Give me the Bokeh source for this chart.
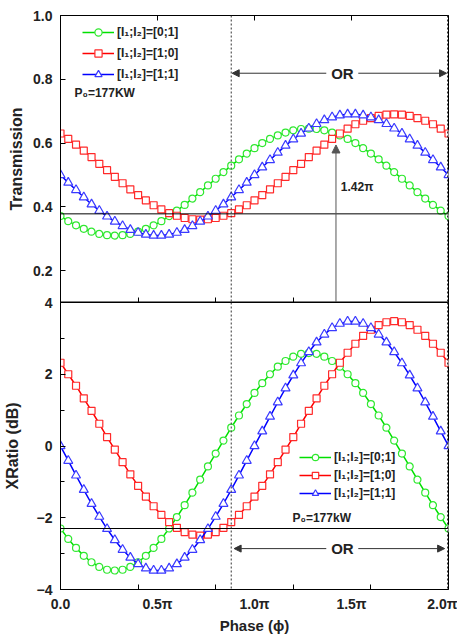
from bokeh.plotting import figure
from bokeh.models import (FixedTicker, Span, Arrow, NormalHead, Label, Legend, LegendItem,
                          CustomJSTickFormatter, PrintfTickFormatter, LinearAxis, Range1d)
from bokeh.layouts import column
from bokeh.embed import file_html
from bokeh.resources import INLINE

# ---------------- data (phase in units of pi) ----------------
phase = [0.00, 0.04, 0.08, 0.12, 0.16, 0.20, 0.24, 0.28, 0.32, 0.36, 0.40, 0.44, 0.48,
         0.52, 0.56, 0.60, 0.64, 0.68, 0.72, 0.76, 0.80, 0.84, 0.88, 0.92, 0.96, 1.00,
         1.04, 1.08, 1.12, 1.16, 1.20, 1.24, 1.28, 1.32, 1.36, 1.40, 1.44, 1.48, 1.52,
         1.56, 1.60, 1.64, 1.68, 1.72, 1.76, 1.80, 1.84, 1.88, 1.92, 1.96, 2.00]

trans_01 = [0.371, 0.355, 0.342, 0.331, 0.322, 0.315, 0.311, 0.310, 0.311, 0.315, 0.322, 0.331, 0.342,
            0.355, 0.371, 0.388, 0.406, 0.426, 0.446, 0.467, 0.488, 0.509, 0.529, 0.549, 0.567, 0.584,
            0.600, 0.613, 0.624, 0.633, 0.640, 0.644, 0.645, 0.644, 0.640, 0.633, 0.624, 0.613, 0.600,
            0.584, 0.567, 0.549, 0.529, 0.509, 0.488, 0.467, 0.446, 0.426, 0.406, 0.388, 0.371]
trans_10 = [0.630, 0.613, 0.595, 0.576, 0.556, 0.535, 0.515, 0.494, 0.474, 0.455, 0.437, 0.420, 0.405,
            0.392, 0.380, 0.372, 0.365, 0.361, 0.360, 0.361, 0.365, 0.372, 0.380, 0.392, 0.405, 0.420,
            0.437, 0.455, 0.474, 0.494, 0.515, 0.535, 0.556, 0.576, 0.595, 0.613, 0.630, 0.645, 0.659,
            0.670, 0.678, 0.685, 0.689, 0.690, 0.689, 0.685, 0.678, 0.670, 0.659, 0.645, 0.630]
trans_11 = [0.500, 0.476, 0.453, 0.430, 0.408, 0.388, 0.370, 0.354, 0.340, 0.328, 0.319, 0.313, 0.310,
            0.310, 0.313, 0.319, 0.328, 0.340, 0.354, 0.370, 0.388, 0.408, 0.430, 0.453, 0.476, 0.500,
            0.524, 0.547, 0.570, 0.592, 0.612, 0.630, 0.646, 0.660, 0.672, 0.681, 0.687, 0.690, 0.690,
            0.687, 0.681, 0.672, 0.660, 0.646, 0.630, 0.612, 0.592, 0.570, 0.547, 0.524, 0.500]

xr_01 = [-2.30, -2.59, -2.84, -3.06, -3.24, -3.37, -3.45, -3.47, -3.45, -3.37, -3.24, -3.06, -2.84,
         -2.59, -2.30, -1.98, -1.65, -1.30, -0.94, -0.57, -0.21, 0.15, 0.51, 0.85, 1.17, 1.48,
         1.75, 2.00, 2.21, 2.37, 2.49, 2.57, 2.59, 2.57, 2.49, 2.37, 2.21, 2.00, 1.75,
         1.48, 1.17, 0.85, 0.51, 0.15, -0.21, -0.57, -0.94, -1.30, -1.65, -1.98, -2.30]
xr_10 = [2.32, 2.00, 1.68, 1.33, 0.98, 0.62, 0.25, -0.10, -0.45, -0.79, -1.11, -1.41, -1.68,
         -1.92, -2.12, -2.28, -2.40, -2.47, -2.50, -2.47, -2.40, -2.28, -2.12, -1.92, -1.68, -1.41,
         -1.11, -0.79, -0.45, -0.10, 0.25, 0.62, 0.98, 1.33, 1.68, 2.00, 2.32, 2.60, 2.85,
         3.07, 3.24, 3.37, 3.45, 3.48, 3.45, 3.37, 3.24, 3.07, 2.85, 2.60, 2.32]
xr_11 = [0.00, -0.41, -0.82, -1.22, -1.61, -1.97, -2.31, -2.62, -2.89, -3.11, -3.29, -3.41, -3.47,
         -3.47, -3.41, -3.29, -3.11, -2.89, -2.62, -2.31, -1.97, -1.61, -1.22, -0.82, -0.41, 0.00,
         0.41, 0.82, 1.22, 1.61, 1.97, 2.31, 2.62, 2.89, 3.11, 3.29, 3.41, 3.47, 3.47,
         3.41, 3.29, 3.11, 2.89, 2.62, 2.31, 1.97, 1.61, 1.22, 0.82, 0.41, 0.00]

labels = ["[I\u2081;I\u2082]=[0;1]", "[I\u2081;I\u2082]=[1;0]", "[I\u2081;I\u2082]=[1;1]"]
x_label_ticks = [0.0, 0.5, 1.0, 1.5, 2.0]
x_minor_ticks = [0.4, 0.8, 1.2, 1.6]
x_top_ticks = [0.5, 1.0, 1.5]
t_ticks = [0.2, 0.4, 0.6, 0.8, 1.0]
xr_ticks = [-4, -2, 0, 2, 4]
xr_minor = [-3, -1, 1, 3]

t_level = 0.378
xr_level = -2.3
or_start = 0.88
or_end = 1.995
switch_phase = 1.42

FONT = "Liberation Sans"
TXT = "#222222"
colors = ["#00e000", "#ff0000", "#0000ff"]
mcolors = ["#30e830", "#ff2a2a", "#3a3aff"]
markers = ["circle", "square", "triangle"]
msizes = [7, 7, 9]


def style_axis(ax):
    ax.axis_line_color = "black"
    ax.axis_line_width = 1
    ax.major_label_text_font = FONT
    ax.major_label_text_font_style = "bold"
    ax.major_label_text_font_size = "14px"
    ax.major_label_text_color = TXT
    ax.axis_label_text_font = FONT
    ax.axis_label_text_font_style = "bold"
    ax.axis_label_text_font_size = "15px"
    ax.axis_label_text_color = TXT
    ax.major_tick_line_color = "black"
    ax.minor_tick_line_color = "black"
    ax.major_tick_out = 0
    ax.minor_tick_out = 0
    ax.major_tick_in = 5
    ax.minor_tick_in = 5


def make_fig(yr, top, bottom):
    p = figure(frame_width=388, frame_height=287, x_range=Range1d(0, 2), y_range=yr,
               output_backend="svg", toolbar_location=None,
               x_axis_location=None, y_axis_location=None,
               min_border_left=53, min_border_right=9, min_border_top=top, min_border_bottom=bottom)
    p.xgrid.grid_line_color = None
    p.ygrid.grid_line_color = None
    p.outline_line_color = "black"
    p.outline_line_width = 1
    return p


# ---------------- top panel ----------------
p1 = make_fig(Range1d(0.1, 1.0), 15, 7)

ya1 = LinearAxis(ticker=FixedTicker(ticks=t_ticks), formatter=PrintfTickFormatter(format="%.1f"),
                 axis_label="Transmission")
style_axis(ya1)
ya1.major_label_standoff = 8
ya1.axis_label_standoff = 5
ya1.axis_label_text_font_size = "16px"
p1.add_layout(ya1, "left")

xb1 = LinearAxis(ticker=FixedTicker(ticks=[], minor_ticks=x_minor_ticks))
style_axis(xb1)
xb1.axis_line_width = 2
xb1.major_label_standoff = 0
p1.add_layout(xb1, "below")

xt1 = LinearAxis(ticker=FixedTicker(ticks=[], minor_ticks=x_top_ticks))
style_axis(xt1)
xt1.major_label_standoff = 0
p1.add_layout(xt1, "above")

p1.add_layout(Span(location=t_level, dimension="width", line_color="black", line_width=1))
p1.add_layout(Span(location=or_start, dimension="height", line_color="#333333", line_width=1, line_dash="2 2"))
p1.add_layout(Span(location=or_end, dimension="height", line_color="#333333", line_width=1, line_dash="2 2"))

items1 = []
for ys, lab, c, mc, m, s in zip([trans_01, trans_10, trans_11], labels, colors, mcolors, markers, msizes):
    lr = p1.line(phase, ys, line_color=c, line_width=1.5)
    sr = p1.scatter(phase, ys, marker=m, size=s, line_color=mc, line_width=1.2, fill_color="white")
    items1.append(LegendItem(label=lab, renderers=[lr, sr]))

leg1 = Legend(items=items1, location=(22, 219), padding=0, margin=0, spacing=3,
              glyph_width=32, glyph_height=18, label_height=18, label_standoff=3,
              label_text_font=FONT, label_text_font_style="bold", label_text_font_size="12px",
              label_text_color=TXT, border_line_color=None, background_fill_alpha=0)
p1.add_layout(leg1)

p1.add_layout(Label(x=0.072, y=0.756, text="P\u2080=177KW", text_font=FONT, text_font_style="bold",
                    text_font_size="12px", text_color=TXT, text_baseline="middle", text_align="left"))

head = dict(size=7, fill_color="#333333", line_color="#333333")
p1.add_layout(Arrow(x_start=1.37, y_start=0.819, x_end=0.885, y_end=0.819, end=NormalHead(**head),
                    line_color="#333333", line_width=1))
p1.add_layout(Arrow(x_start=1.535, y_start=0.819, x_end=1.99, y_end=0.819, end=NormalHead(**head),
                    line_color="#333333", line_width=1))
p1.add_layout(Label(x=1.453, y=0.819, text="OR", text_font=FONT, text_font_style="bold",
                    text_font_size="15px", text_color=TXT, text_baseline="middle", text_align="center"))
p1.add_layout(Arrow(x_start=switch_phase, y_start=0.1, x_end=switch_phase, y_end=0.594,
                    end=NormalHead(size=8, fill_color="#555555", line_color="#555555"),
                    line_color="#555555", line_width=1))
p1.add_layout(Label(x=1.445, y=0.4625, text="1.42\u03c0", text_font=FONT, text_font_style="bold",
                    text_font_size="12px", text_color=TXT, text_baseline="middle", text_align="left"))

# ---------------- bottom panel ----------------
p2 = make_fig(Range1d(-4, 4), 7, 37)
p2.border_fill_color = None
p2.margin = (-14, 0, 0, 0)

ya2 = LinearAxis(ticker=FixedTicker(ticks=xr_ticks, minor_ticks=xr_minor), axis_label="XRatio (dB)")
style_axis(ya2)
ya2.minor_tick_in = 4
ya2.major_label_standoff = 8
ya2.axis_label_standoff = 13
ya2.axis_label_text_font_size = "16px"
p2.add_layout(ya2, "left")

xa2 = LinearAxis(ticker=FixedTicker(ticks=x_label_ticks, minor_ticks=x_minor_ticks),
                 formatter=CustomJSTickFormatter(code="return tick == 0 ? '0.0' : tick.toFixed(1) + '\u03c0';"),
                 axis_label="Phase (\u03d5)")
style_axis(xa2)
xa2.major_tick_in = 0
xa2.major_label_standoff = 6
xa2.axis_label_standoff = 2
p2.add_layout(xa2, "below")

p2.add_layout(Span(location=xr_level, dimension="width", line_color="black", line_width=1))
p2.add_layout(Span(location=or_start, dimension="height", line_color="#333333", line_width=1, line_dash="2 2"))
p2.add_layout(Span(location=or_end, dimension="height", line_color="#333333", line_width=1, line_dash="2 2"))

items2 = []
for ys, lab, c, mc, m, s in zip([xr_01, xr_10, xr_11], labels, colors, mcolors, markers, msizes):
    lr = p2.line(phase, ys, line_color=c, line_width=1.5)
    sr = p2.scatter(phase, ys, marker=m, size=s, line_color=mc, line_width=1.2, fill_color="white")
    items2.append(LegendItem(label=lab, renderers=[lr, sr]))

leg2 = Legend(items=items2, location=(239, 88), padding=0, margin=0, spacing=2,
              glyph_width=32, glyph_height=16, label_height=16, label_standoff=3,
              label_text_font=FONT, label_text_font_style="bold", label_text_font_size="12px",
              label_text_color=TXT, border_line_color=None, background_fill_alpha=0)
p2.add_layout(leg2)

p2.add_layout(Label(x=1.196, y=-2.0, text="P\u2080=177kW", text_font=FONT, text_font_style="bold",
                    text_font_size="12px", text_color=TXT, text_baseline="middle", text_align="left"))
p2.add_layout(Arrow(x_start=1.37, y_start=-2.86, x_end=0.895, y_end=-2.86, end=NormalHead(**head),
                    line_color="#333333", line_width=1))
p2.add_layout(Arrow(x_start=1.535, y_start=-2.86, x_end=1.98, y_end=-2.86, end=NormalHead(**head),
                    line_color="#333333", line_width=1))
p2.add_layout(Label(x=1.453, y=-2.86, text="OR", text_font=FONT, text_font_style="bold",
                    text_font_size="15px", text_color=TXT, text_baseline="middle", text_align="center"))

layout = column(p1, p2)
open("out.html", "w").write(file_html(layout, INLINE))
